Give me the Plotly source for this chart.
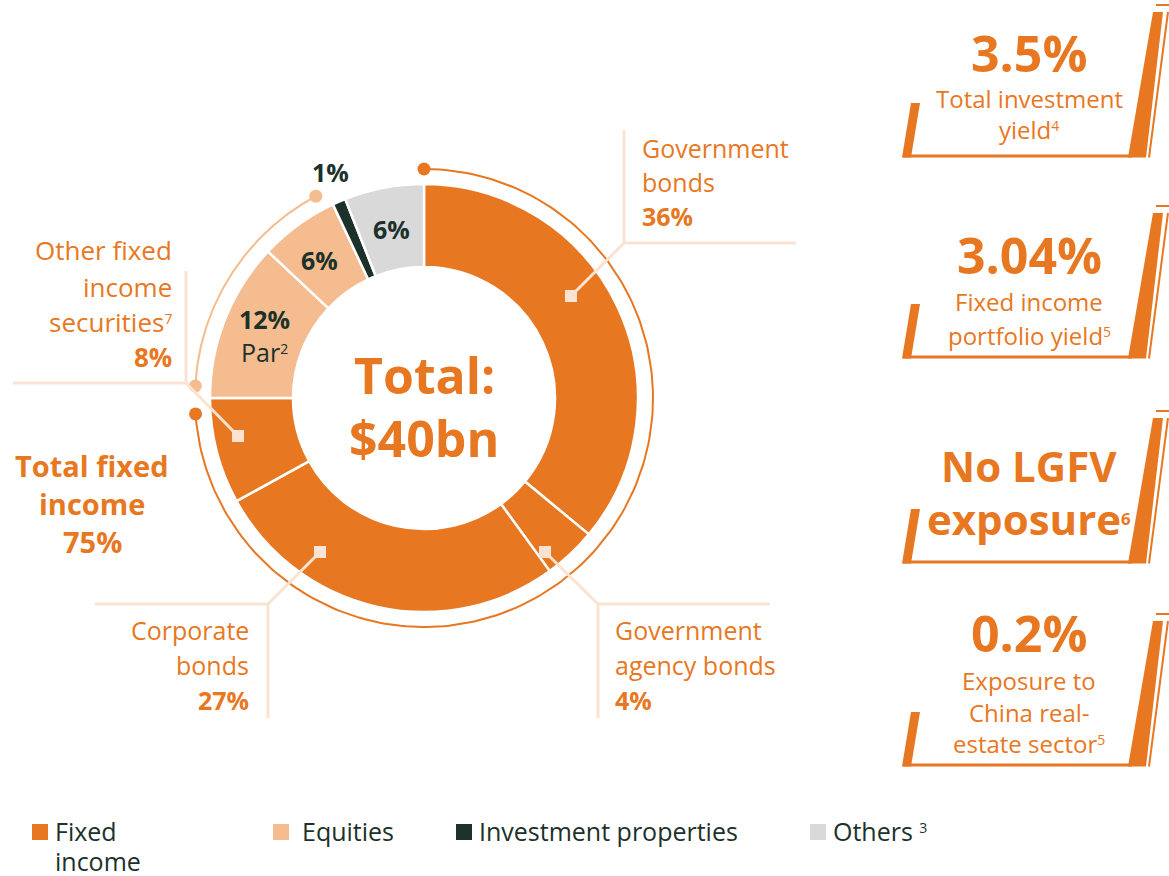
import numpy as np
import plotly.graph_objects as go

# ---------------- data ----------------
segments = ["Government bonds", "Government agency bonds", "Corporate bonds",
            "Other fixed income securities", "Par", "Equities",
            "Investment properties", "Others"]
shares = [36, 4, 27, 8, 12, 6, 1, 6]
segment_group = ["Fixed income", "Fixed income", "Fixed income", "Fixed income",
                 "Equities", "Equities", "Investment properties", "Others"]
group_names = ["Fixed income", "Equities", "Investment properties", "Others"]


def sup(n, base=20):
    return f"<span style='font-size:{base}px'><sup>{n}</sup></span>"


group_legend_text = ["Fixed<br>income", "Equities", "Investment properties", "Others " + sup(3)]
total_text = ["Total:", "$40bn"]
fixed_income_total = "75%"

kpi_big = [["3.5%"], ["3.04%"], ["No LGFV", "exposure" + sup(6, 24)], ["0.2%"]]
kpi_small = [["Total investment", "yield" + sup(4)],
             ["Fixed income", "portfolio yield" + sup(5)],
             [],
             ["Exposure to", "China real-", "estate sector" + sup(5)]]

# ---------------- style / layout ----------------
W, H = 1169, 876
FONT = "Open Sans"
ORANGE = "#E87722"
PEACH = "#F4BC8F"
DARK = "#1B3129"
GREY = "#D9D9D9"
LEADER = "#FBE3D3"
group_colors = {"Fixed income": ORANGE, "Equities": PEACH,
                "Investment properties": DARK, "Others": GREY}
slice_colors = [group_colors[g] for g in segment_group]

CX, CY = 424, 398
R_OUT, R_IN, R_ARC = 214, 131, 229

fig = go.Figure()

# donut
fig.add_trace(go.Pie(
    labels=segments, values=shares, sort=False, direction="clockwise", rotation=0,
    hole=R_IN / R_OUT, marker=dict(colors=slice_colors, line=dict(color="white", width=2.5)),
    textinfo="none", hoverinfo="label+percent", showlegend=False,
    domain=dict(x=[(CX - R_OUT) / W, (CX + R_OUT) / W],
                y=[(H - CY - R_OUT) / H, (H - CY + R_OUT) / H]),
))

total = sum(shares)
cum = np.concatenate([[0], np.cumsum(shares)]) / total * 360.0


def polar(angle_deg, r):
    a = np.radians(angle_deg)
    return CX + r * np.sin(a), CY - r * np.cos(a)


# outer group arcs
fi_end = cum[segment_group.index("Equities")]
eq_end = cum[segment_group.index("Investment properties")]
arcs = [(cum[0], fi_end - 4, ORANGE), (fi_end + 3, eq_end - 3, PEACH)]
for a0, a1, col in arcs:
    ang = np.linspace(a0, a1, 200)
    xs, ys = polar(ang, R_ARC)
    fig.add_trace(go.Scatter(x=xs, y=ys, mode="lines", line=dict(color=col, width=2),
                             hoverinfo="skip", showlegend=False))
    dx, dy = polar(np.array([a0, a1]), R_ARC)
    fig.add_trace(go.Scatter(x=dx, y=dy, mode="markers", marker=dict(color=col, size=13),
                             hoverinfo="skip", showlegend=False))

shapes = []
annotations = []


def text(x, y, s, size=25, color=ORANGE, xanchor="center", bold=False):
    annotations.append(dict(x=x, y=y, xref="x", yref="y", text=(f"<b>{s}</b>" if bold else s),
                            showarrow=False, xanchor=xanchor, yanchor="middle",
                            font=dict(family=FONT, size=size, color=color)))


# callouts: square anchor, elbow, horizontal extent, vertical extent
callouts = [
    dict(sq=(571, 296), elbow=(624, 243), h=(624, 796), v=(130, 243)),
    dict(sq=(238, 436), elbow=(186, 383), h=(13, 186), v=(271, 383)),
    dict(sq=(320, 552), elbow=(268, 604), h=(95, 268), v=(604, 718)),
    dict(sq=(545, 552), elbow=(598, 604), h=(598, 770), v=(604, 718)),
]
for c in callouts:
    (sx, sy), (ex, ey) = c["sq"], c["elbow"]
    ln = dict(color=LEADER, width=3)
    shapes.append(dict(type="line", xref="x", yref="y", x0=sx, y0=sy, x1=ex, y1=ey, line=ln, layer="above"))
    shapes.append(dict(type="line", xref="x", yref="y", x0=c["h"][0], y0=ey, x1=c["h"][1], y1=ey, line=ln, layer="above"))
    shapes.append(dict(type="line", xref="x", yref="y", x0=ex, y0=c["v"][0], x1=ex, y1=c["v"][1], line=ln, layer="above"))
    shapes.append(dict(type="rect", xref="x", yref="y", x0=sx - 6, y0=sy - 6, x1=sx + 6, y1=sy + 6,
                       fillcolor=LEADER, line=dict(width=0), layer="above"))

# callout texts
seg_pct = {s: f"{v}%" for s, v in zip(segments, shares)}
for i, (t, y) in enumerate(zip(["Government", "bonds", seg_pct["Government bonds"]], [148, 182, 216])):
    text(640, y, t, xanchor="left", bold=(i == 2))
for i, (t, y) in enumerate(zip(["Other fixed", "income", "securities" + sup(7),
                                seg_pct["Other fixed income securities"]], [250, 287, 322, 357])):
    text(174, y, t, size=26, xanchor="right", bold=(i == 3))
for i, (t, y) in enumerate(zip(["Corporate", "bonds", seg_pct["Corporate bonds"]], [630, 665, 700])):
    text(251, y, t, xanchor="right", bold=(i == 2))
for i, (t, y) in enumerate(zip(["Government", "agency bonds", seg_pct["Government agency bonds"]], [630, 665, 700])):
    text(613, y, t, xanchor="left", bold=(i == 2))
for t, y in zip(["Total fixed", "income", fixed_income_total], [465, 503, 541]):
    text(92, y, t, size=29, bold=True)

# centre text
text(CX, 375, total_text[0], size=50, bold=True)
text(CX, 438, total_text[1], size=50, bold=True)

# slice labels
mid = (cum[:-1] + cum[1:]) / 2
i_par, i_eq, i_ip, i_oth = (segments.index(s) for s in ["Par", "Equities", "Investment properties", "Others"])
px_, py_ = polar(mid[i_par], 172)
text(px_, py_ - 16, seg_pct["Par"], color=DARK, bold=True)
text(px_, py_ + 17, "Par" + sup(2), color=DARK)
ex_, ey_ = polar(mid[i_eq], 170)
text(ex_ - 5, ey_, seg_pct["Equities"], color=DARK, bold=True)
ox_, oy_ = polar(mid[i_oth], 172)
text(ox_, oy_, seg_pct["Others"], color=DARK, bold=True)
ix_, iy_ = polar(mid[i_ip], 244)
text(ix_ + 3, iy_ - 2, seg_pct["Investment properties"], color=DARK, bold=True)

# KPI boxes
kpi_bottom = [156, 357, 562, 765]
kpi_big_y = [[53], [255], [465, 518], [633]]
kpi_small_y = [[98, 129], [301, 335], [], [680, 712, 743]]
KX = 1029
for b, bigs, bys, smalls, sys_ in zip(kpi_bottom, kpi_big, kpi_big_y, kpi_small, kpi_small_y):
    shapes.append(dict(type="path", xref="x", yref="y",
                       path=f"M902,{b+1.5} L911,{b+1.5} L920,{b-53} L911,{b-53} Z",
                       fillcolor=ORANGE, line=dict(width=0)))
    shapes.append(dict(type="line", xref="x", yref="y", x0=903, y0=b, x1=1132, y1=b,
                       line=dict(color=ORANGE, width=3)))
    shapes.append(dict(type="path", xref="x", yref="y",
                       path=f"M1128,{b+1.5} L1146,{b+1.5} L1163,{b-144} L1153,{b-144} Z",
                       fillcolor=ORANGE, line=dict(width=0)))
    shapes.append(dict(type="line", xref="x", yref="y", x0=1149, y0=b + 1.5, x1=1168, y1=b - 144,
                       line=dict(color=ORANGE, width=2)))
    shapes.append(dict(type="line", xref="x", yref="y", x0=1156, y0=b - 151, x1=1169, y1=b - 151,
                       line=dict(color=ORANGE, width=2)))
    big_size = 50 if len(bigs) == 1 else 42
    for t, y in zip(bigs, bys):
        text(KX, y, t, size=big_size, bold=True)
    for t, y in zip(smalls, sys_):
        text(KX, y, t, size=24)

# legend
legend_x = [32, 273, 456, 810]
for g, lt, lx in zip(group_names, group_legend_text, legend_x):
    shapes.append(dict(type="rect", xref="x", yref="y", x0=lx, y0=824, x1=lx + 16, y1=840,
                       fillcolor=group_colors[g], line=dict(width=0)))
    for k, ln_ in enumerate(lt.split("<br>")):
        text(lx + 21 if g != "Equities" else lx + 27, 831 + 30 * k, ln_, size=25, color=DARK, xanchor="left")

fig.update_layout(
    width=W, height=H, autosize=False,
    margin=dict(l=0, r=0, t=0, b=0),
    paper_bgcolor="white", plot_bgcolor="white",
    xaxis=dict(range=[0, W], visible=False, fixedrange=True),
    yaxis=dict(range=[H, 0], visible=False, fixedrange=True),
    shapes=shapes, annotations=annotations, showlegend=False,
    font=dict(family=FONT),
)

fig.write_html("out.html", config={"displayModeBar": False},
               post_script="document.body.style.margin='0';document.body.style.overflow='hidden';")
